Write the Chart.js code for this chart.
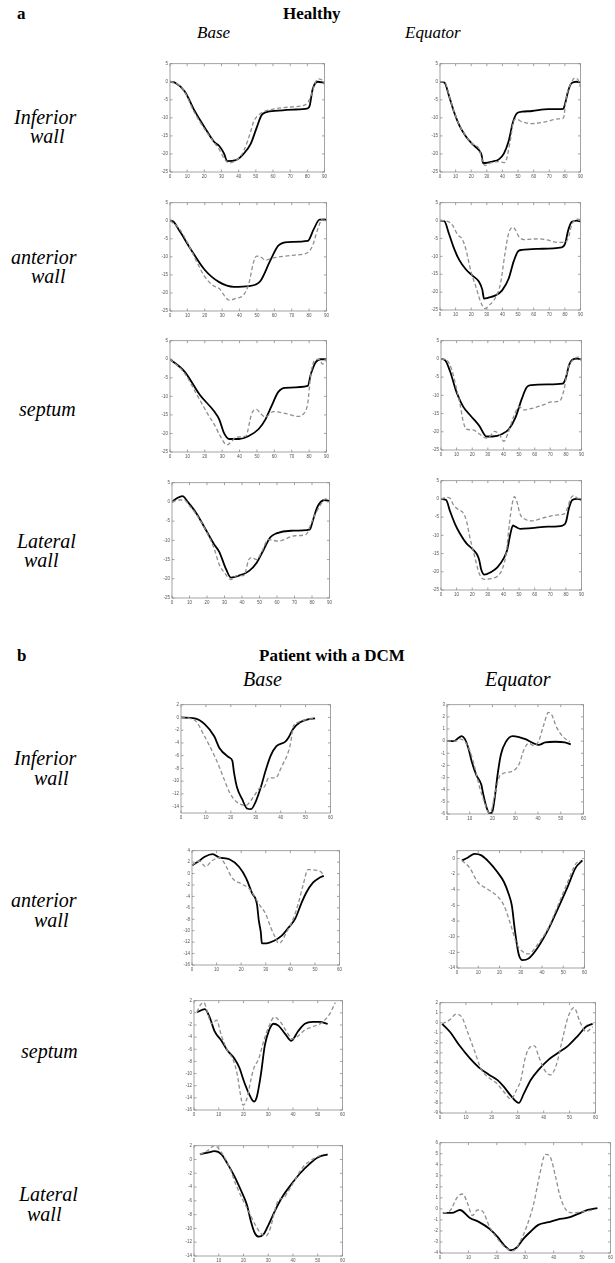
<!DOCTYPE html>
<html>
<head>
<meta charset="utf-8">
<script src="https://cdn.jsdelivr.net/npm/chart.js@4.4.0/dist/chart.umd.min.js"></script>
<style>
  html, body { margin: 0; padding: 0; background: #fff; }
  body { position: relative; width: 615px; height: 1263px; overflow: hidden; font-family: "Liberation Serif", "DejaVu Serif", serif; }
  .t { position: absolute; white-space: nowrap; color: #000; line-height: 1; }
  .bold { font-weight: bold; font-size: 17px; }
  .it { font-style: italic; font-size: 17px; }
  .it2 { font-style: italic; font-size: 20px; }
  .row { font-style: italic; font-size: 20px; }
  canvas { position: absolute; }
</style>
</head>
<body>
<div class="t bold" style="left:17px;top:5px">a</div>
<div class="t bold" style="left:283px;top:5px">Healthy</div>
<div class="t it" style="left:197px;top:24px">Base</div>
<div class="t it" style="left:405px;top:24px">Equator</div>

<div class="t row" style="left:14px;top:107px">Inferior</div>
<div class="t row" style="left:30px;top:126px">wall</div>
<div class="t row" style="left:11px;top:247px">anterior</div>
<div class="t row" style="left:31px;top:266px">wall</div>
<div class="t row" style="left:19px;top:399px">septum</div>
<div class="t row" style="left:17px;top:531px">Lateral</div>
<div class="t row" style="left:24px;top:550px">wall</div>

<div class="t bold" style="left:17px;top:647px">b</div>
<div class="t bold" style="left:259px;top:647px">Patient with a DCM</div>
<div class="t it2" style="left:243px;top:669px">Base</div>
<div class="t it2" style="left:485px;top:669px">Equator</div>

<div class="t row" style="left:14px;top:748px">Inferior</div>
<div class="t row" style="left:34px;top:768px">wall</div>
<div class="t row" style="left:11px;top:890px">anterior</div>
<div class="t row" style="left:34px;top:910px">wall</div>
<div class="t row" style="left:21px;top:1041px">septum</div>
<div class="t row" style="left:19px;top:1184px">Lateral</div>
<div class="t row" style="left:27px;top:1204px">wall</div>

<script>
// tick labels
const healthyXTicks = [0, 10, 20, 30, 40, 50, 60, 70, 80, 90];
const healthyYTicks = [5, 0, -5, -10, -15, -20, -25];
const dcmXTicks = [0, 10, 20, 30, 40, 50, 60];
const dcmInfBaseYTicks = [2, 0, -2, -4, -6, -8, -10, -12, -14];
const dcmInfEqYTicks = [3, 2, 1, 0, -1, -2, -3, -4, -5, -6];
const dcmAntBaseYTicks = [4, 2, 0, -2, -4, -6, -8, -10, -12, -14, -16];
const dcmAntEqYTicks = [0, -2, -4, -6, -8, -10, -12, -14];
const dcmSepBaseYTicks = [2, 0, -2, -4, -6, -8, -10, -12, -14, -16];
const dcmSepEqYTicks = [2, 1, 0, -1, -2, -3, -4, -5, -6, -7, -8, -9];
const dcmLatBaseYTicks = [2, 0, -2, -4, -6, -8, -10, -12, -14];
const dcmLatEqYTicks = [6, 5, 4, 3, 2, 1, 0, -1, -2, -3, -4];

// a: healthy, [time, strain] pairs — solid = model, dashed = measured
const hInfBaseSolid = [[0,0],[3,-0.3],[8.6,-2.7],[14.3,-8],[20,-12.5],[25.8,-16.7],[28.7,-17.8],[31.5,-19.9],[33.3,-22],[38.4,-21.7],[43,-19.9],[47,-17.2],[50.5,-12.7],[53.3,-9.3],[55.6,-8.5],[63,-8],[72,-7.7],[80.3,-7.4],[81.4,-6.6],[83.1,-2.1],[86,0],[90,-0.3]];
const hInfBaseDash = [[0,0],[3,-0.3],[8,-2.4],[14,-8.3],[20,-13],[26,-17],[29,-19],[31.5,-21.2],[34.4,-22.5],[40,-21.2],[43,-19.1],[47,-13.8],[48.7,-11.1],[52.8,-8.8],[59,-7.7],[70,-7],[78.6,-6.4],[81.4,-4.8],[84.3,-0.8],[86,0.8],[89,0.3],[90,-0.8]];
const hInfEqSolid = [[0,0],[2.8,-0.2],[5.9,-4.1],[9.1,-8.5],[12.3,-12],[16.5,-15.1],[20.8,-17.3],[25,-19],[26.7,-20.4],[27.5,-22.5],[29.2,-22.5],[33.5,-22.1],[37.7,-21.5],[40.9,-19.9],[44,-16.4],[46.8,-11.1],[49.4,-8.7],[52.5,-8.3],[58.9,-8.1],[69.5,-7.6],[79,-7.5],[80,-6.3],[82.2,-2.4],[84.3,-0.4],[87.5,0],[90,-0.2]];
const hInfEqDash = [[0,0],[2.8,0],[5.9,-3.9],[9.1,-8.4],[12.3,-11.9],[16.5,-15],[20.8,-17.2],[25,-18.6],[27,-21.7],[28.8,-23.2],[32.4,-22.5],[37.7,-22.1],[41.5,-22.4],[45,-16.4],[47,-11.1],[48.7,-10.3],[52.5,-11.1],[58.9,-11.6],[67.4,-11.1],[75.8,-10.3],[79,-10.1],[81,-4.1],[83.3,-1],[86.4,1],[88.6,0.4],[90,-1.5]];

const hAntBaseSolid = [[0,0],[1,0],[5.7,-3],[11.3,-7.4],[19.8,-13.5],[28.3,-17],[36.8,-18.3],[45.3,-18.1],[52,-16.7],[57.7,-11],[62.3,-6.9],[68,-5.9],[79.2,-5.6],[82.6,-2.4],[86,0.3],[90,0.3]];
const hAntBaseDash = [[0,0],[5,-2],[10,-6],[15,-11],[20,-15.5],[25,-18],[28.3,-18.8],[34,-22],[37.9,-21.5],[41.3,-21],[43.6,-19.6],[45.3,-17.5],[48.1,-11.4],[49.8,-9.8],[52,-10],[54.9,-10.9],[59.4,-10.3],[71.9,-9.5],[79.2,-8.8],[82,-6.9],[84.9,-2.4],[87.7,0.5],[90,0.5]];
const hAntEqSolid = [[0,0],[2.8,-0.2],[5.9,-3.9],[9.1,-7.9],[12.3,-11],[16.5,-13.6],[20.8,-15.4],[25,-17.1],[27.1,-19.3],[28.2,-21.8],[31.4,-21.5],[35.6,-20.9],[39.8,-19.5],[44,-16.2],[47.2,-11.4],[50,-8.6],[52.5,-8.2],[63.1,-7.9],[78,-7.5],[80,-6.6],[82.2,-2.6],[84.3,-0.4],[87.5,0],[90,-0.2]];
const hAntEqDash = [[0,0],[4.9,-0.2],[8,-1.3],[11.2,-3.9],[14.4,-5.3],[16.5,-7.9],[19.7,-14],[22.9,-18.4],[26.1,-22.8],[28.8,-24.6],[31.4,-23.7],[35.6,-21.5],[38.8,-17.5],[41.5,-9.6],[44,-3.5],[46.8,-1.9],[48.3,-2.6],[50.4,-4.4],[53.6,-5.3],[63.1,-5.1],[68.4,-5.4],[75.8,-6.1],[80,-6.1],[82.2,-4.8],[84.3,-1.3],[86.4,0.2],[88.6,0.4],[90,0.2]];

const hSepBaseSolid = [[0,0],[8.5,-3.4],[17,-9.5],[25.5,-14.1],[28.3,-16.2],[31.1,-19.9],[34,-21.5],[39.6,-21.5],[45.3,-20.7],[51,-18.8],[54.9,-16.2],[58.3,-12.7],[62.3,-8.8],[66.2,-7.7],[79.2,-7.2],[81,-4],[83.8,-0.8],[86.6,0],[90,0]];
const hSepBaseDash = [[0,0],[8,-3.5],[16,-10],[22,-15],[26,-18],[28.3,-20.2],[32.8,-23.1],[35.7,-22],[37.9,-21],[43.6,-20.7],[47,-14.6],[49.8,-13.5],[52,-14.6],[54.9,-15.6],[59.4,-14.1],[66.2,-14.6],[73.6,-15.4],[76.4,-14.9],[79.2,-11.9],[81,-4],[83.2,-0.3],[86,0],[87.7,-1.3],[90,0]];
const hSepEqSolid = [[0,0],[2.7,-0.4],[5.8,-3.4],[10,-9.2],[14.2,-13.1],[19.4,-15.8],[24.6,-18.4],[29.2,-21.3],[33,-21.3],[39.2,-20.6],[43.4,-19.3],[47.6,-16.2],[51.8,-10.9],[54.9,-7.8],[58,-7.2],[68.5,-7],[77.9,-6.8],[80,-5.2],[82,-1.7],[84.1,-0.2],[87.3,0.1],[90,-0.2]];
const hSepEqDash = [[0,0],[3.8,-0.4],[6.9,-3],[10,-8.3],[12.1,-12.2],[14.2,-17.1],[16.3,-19.3],[20.5,-19.5],[24.6,-20.6],[28.8,-21.7],[31.9,-21],[34,-19.9],[37.2,-20.6],[40.3,-22.6],[43,-20.2],[46.6,-15.8],[50.1,-13.1],[52.8,-14],[58,-13.6],[66.4,-12.5],[70.6,-11.8],[75.8,-11.6],[78.9,-8.3],[81,-3],[84.1,-0.5],[88.3,0.5],[90,-0.4]];

const hLatBaseSolid = [[0,0],[3,1],[6,1.5],[9,0],[14,-3],[19,-7],[24,-11],[27,-13],[30.9,-17.5],[33.7,-19.7],[38.2,-19.2],[43.9,-18],[48.4,-15.8],[52.3,-12.5],[56.2,-9.2],[59.6,-8.2],[68,-7.5],[78.7,-7.2],[80.4,-5],[83.2,-1.2],[87.2,0.5],[90,0.2]];
const hLatBaseDash = [[0,0],[4,0.5],[7,0.5],[10,-1],[15,-4],[20,-8],[24,-12],[27,-16.3],[29.8,-18.3],[33.7,-20.2],[37.1,-19.2],[41,-19.2],[43.9,-15],[45.6,-14.5],[48.4,-15],[51.2,-13],[55.1,-9.8],[60.7,-10.2],[70.3,-8.8],[76.5,-8.5],[79.3,-5.8],[82.1,-3],[86,0],[87.7,0.8],[90,0]];
const hLatEqSolid = [[0,0],[3.3,-0.3],[5.8,-3.4],[9,-6.9],[12.1,-9.5],[16.3,-12.2],[20.5,-13.9],[23.6,-15.7],[24.6,-17],[25.7,-19.3],[27.8,-20.8],[31.9,-20.1],[36.1,-18.8],[40.3,-16.2],[42.4,-14],[44.5,-9.5],[46.1,-7.3],[47.6,-7.6],[50.7,-8.2],[58,-8],[68.5,-7.6],[77.9,-7.3],[80,-6.4],[82,-2.5],[84.1,-0.3],[87.3,0],[90,-0.2]];
const hLatEqDash = [[0,0],[3.8,0.4],[5.8,0.2],[7.9,-1.6],[11.1,-2.9],[14.2,-3.8],[16.3,-6],[18.4,-10.4],[21.5,-15.7],[24.6,-20.6],[27.8,-22.1],[31.9,-21.9],[36.1,-21.2],[39.2,-19.3],[41.8,-14.8],[43.8,-6.9],[45.5,-1.6],[47,0.6],[48.6,-0.7],[50.7,-4.2],[53.9,-5.6],[58,-6],[66.4,-5.1],[74.7,-4.4],[78.9,-4.1],[81,-2.5],[83.1,0.2],[85.2,0.9],[87.3,0.2],[90,0]];

// b: patient with a DCM
const dInfBaseSolid = [[0,0],[5.5,-0.15],[9.5,-1.05],[13.4,-3],[15.4,-4.8],[19.4,-6.3],[20.6,-6.8],[21.3,-8.7],[22.5,-11],[24.5,-12.8],[26.5,-14.3],[28.1,-14.4],[30,-13.2],[32,-11],[34,-8.3],[36,-6],[38.3,-4.5],[41.9,-3.8],[43.1,-3.2],[45,-1.8],[47.8,-0.75],[51,-0.3],[53.8,-0.15]];
const dInfBaseDash = [[0,0],[5.5,-0.45],[9.5,-3],[13.4,-6],[15.4,-7.8],[17.4,-9.8],[19.4,-11.7],[22.1,-13.2],[26.1,-13.8],[28.5,-12.8],[30.4,-11.7],[32,-11],[33.2,-11],[35.2,-9.5],[37.9,-9.5],[40.3,-7.8],[43.9,-4.2],[45,-1.5],[47,-0.75],[51,-0.3],[53.8,-0.15]];
const dInfEqSolid = [[0,0],[2.9,0],[5,0.26],[6.5,0.42],[7.9,0.16],[9.4,-0.58],[10.8,-1.63],[12.9,-2.8],[15.1,-3.6],[15.8,-4.25],[17.3,-5.4],[18.7,-5.96],[19.9,-5.83],[20.9,-4.78],[22.3,-2.68],[23.7,-1.1],[25.9,-0.05],[28.8,0.42],[31.7,0.34],[34.5,0.16],[38.1,-0.18],[40.3,-0.31],[43.2,-0.1],[47.5,-0.05],[51.8,-0.1],[54.4,-0.26]];
const dInfEqDash = [[0,0],[3.6,0],[5.8,0.16],[7.9,-0.05],[10.1,-0.84],[12.2,-2.15],[14.4,-3.86],[16.5,-5.04],[18.4,-5.88],[19.4,-5.77],[20.9,-4.5],[23,-2.94],[24.5,-2.68],[27.3,-2.55],[29.5,-2.41],[31.7,-1.89],[33.8,-0.71],[36,-0.18],[38.1,-0.37],[40.3,0],[42.4,1.26],[44.6,2.36],[46,2.18],[48.2,1.13],[51.1,0.34],[54,-0.05]];

const dAntBaseSolid = [[0,1.44],[2.4,2.05],[5.2,2.95],[8.4,3.4],[11.2,2.8],[15.2,2.5],[19.2,1.14],[22,-0.8],[24.4,-3.4],[26.4,-5.3],[27.2,-8.3],[28,-10.3],[28.4,-12.2],[30.4,-12.2],[33.2,-11.8],[36.4,-10.9],[39.2,-9.5],[42,-7.9],[44.4,-5.3],[46.4,-3.4],[49.2,-1.6],[52,-0.7],[53.6,-0.4]];
const dAntBaseDash = [[0,1.44],[3,2.2],[5.5,1.2],[8,2.2],[11.2,2.8],[13.2,1.8],[16.4,-0.8],[20,-1.8],[23.2,-2.6],[25.2,-3.8],[27.2,-5.3],[30,-7.1],[32,-9.4],[34,-11.3],[35.2,-12.2],[36.4,-11.9],[38.4,-10.3],[41.2,-7.9],[43.2,-5.3],[45.2,-2],[47.2,0.7],[50,0.6],[52.4,0.3],[53.6,-0.4]];
const dAntEqSolid = [[2.3,-0.25],[5,0.1],[8.3,0.6],[11.5,0.4],[15.2,-0.5],[18.9,-1.7],[22.1,-3],[24.4,-4.6],[25.8,-6],[27.2,-9.1],[29,-12.2],[30.9,-13],[33.6,-12.8],[38.2,-11.3],[42.9,-9.1],[47.5,-6.4],[52.1,-3.6],[55.8,-1.2],[59,-0.25]];
const dAntEqDash = [[2.3,-0.25],[6,-1.2],[9.7,-3],[14.3,-3.9],[18.9,-4.8],[22.1,-6],[25.3,-8.5],[28.1,-10.9],[30.9,-11.9],[33.6,-12.2],[38.2,-10.9],[42.9,-8.9],[47.5,-6],[52.1,-3],[55.8,-0.7],[58.1,-0.25]];

const dSepBaseSolid = [[1.2,0.1],[4.4,0.6],[6.3,-0.7],[8.3,-3],[11.1,-4.6],[13.5,-6.2],[16.3,-7.5],[18.3,-9],[20.2,-11.3],[22.2,-13.3],[24.2,-14.6],[25.4,-13.8],[27,-10.2],[28.6,-5.4],[30.2,-3],[32.1,-1.8],[34.1,-2.1],[36.9,-3.5],[39.3,-4.6],[42.1,-3],[44.8,-1.8],[48,-1.5],[50.8,-1.5],[54,-1.8]];
const dSepBaseDash = [[1.2,0.1],[2.4,1.2],[4,1.7],[5.6,-0.2],[7.1,-1.8],[9.1,-1.2],[11.1,-3.8],[13.5,-6.2],[15.9,-7.8],[17.5,-10.2],[18.7,-13.3],[19.8,-15.2],[21.4,-14.1],[23,-11],[24.2,-9.1],[26.2,-7.5],[28.2,-4.6],[30.2,-2.3],[32.5,-0.7],[34.9,-1.5],[37.3,-3],[39.7,-4.3],[42.1,-3.8],[44.8,-2.8],[48,-2.3],[52,-1.5],[54.8,-0.2],[57.1,1.7]];
const dSepEqSolid = [[0.8,-0.1],[3.8,-0.9],[7.6,-2.3],[11.4,-3.5],[15.2,-4.5],[19,-5.2],[22.1,-5.7],[24.7,-6.4],[27.4,-7.3],[30.4,-8],[32.3,-7.1],[35,-5.7],[38,-4.7],[41.8,-3.7],[45.6,-3],[49.4,-2.3],[53.2,-1.3],[56.3,-0.4],[58.9,-0.1]];
const dSepEqDash = [[0.8,-0.1],[3.8,0.3],[6.1,0.85],[8.4,0.56],[10.6,-0.9],[13.3,-2.8],[16,-4.7],[19,-5.5],[22.1,-6.1],[24.7,-6.9],[27.4,-7.6],[29.7,-6.6],[31.2,-5.7],[32.7,-3.7],[34.2,-2.6],[36.5,-2.3],[38,-3.3],[40.3,-4.7],[42.6,-5.2],[44.9,-4.2],[47.1,-1.8],[49.4,0.56],[51.7,1.5],[54,0.1],[56.3,-0.9],[58.9,-0.4]];

const dLatBaseSolid = [[2.4,0.75],[5.6,1],[8.3,1.2],[11.1,0.75],[13.5,-0.6],[16.3,-2.4],[19,-4.5],[21.4,-6.6],[23,-9],[24.6,-10.7],[26.2,-11.2],[28.2,-10.8],[30.2,-9.4],[32.9,-7.3],[36.1,-5.2],[39.3,-3.6],[42.9,-2],[46.8,-0.6],[50,0.3],[54,0.75]];
const dLatBaseDash = [[2.4,0.75],[5.6,1.3],[8.3,2],[11.1,1],[14.3,-1.1],[17.1,-3.8],[19.8,-5.9],[22.2,-7.6],[24.6,-9.4],[27,-10.7],[29,-11.1],[31,-9.8],[32.5,-7.6],[34.1,-5.9],[36.1,-5.6],[38.1,-4.6],[40.9,-2.9],[44,-1.1],[48,0.05],[52,0.75]];
const dLatEqSolid = [[1,-0.36],[4.2,-0.36],[7,-0.1],[10.4,-0.8],[13.8,-1.2],[17.4,-1.8],[20.1,-2.5],[22.6,-3.3],[25,-3.75],[27,-3.5],[29.4,-2.7],[31.9,-2.05],[34.6,-1.45],[38.2,-1.2],[41.6,-0.95],[45,-0.8],[48.6,-0.45],[52,-0.1],[55.4,0.07]];
const dLatEqDash = [[1,-0.36],[3.4,-0.2],[6.2,1.1],[8,1.35],[9.7,0.5],[11.4,-0.6],[13.2,-0.1],[14.9,-0.2],[17.4,-1.6],[20.8,-2.9],[23.6,-3.6],[25.7,-3.8],[27.8,-3.15],[30.5,-1.6],[33,0.5],[35,3],[37.1,4.95],[38.8,4.7],[40.6,3],[42.3,1.1],[44.4,-0.1],[46.8,-0.36],[50.2,-0.27],[53.8,-0.1]];

// plot boxes on the page: [left, top, right, bottom]
const panels = [
  { box: [170, 61, 327, 174], xr: [0, 90], yr: [-25, 5], xt: healthyXTicks, yt: healthyYTicks, solid: hInfBaseSolid, dash: hInfBaseDash },
  { box: [440, 61, 583, 174], xr: [0, 90], yr: [-25, 5], xt: healthyXTicks, yt: healthyYTicks, solid: hInfEqSolid, dash: hInfEqDash },
  { box: [170, 200, 329, 313], xr: [0, 90], yr: [-25, 5], xt: healthyXTicks, yt: healthyYTicks, solid: hAntBaseSolid, dash: hAntBaseDash },
  { box: [440, 200, 583, 312], xr: [0, 90], yr: [-25, 5], xt: healthyXTicks, yt: healthyYTicks, solid: hAntEqSolid, dash: hAntEqDash },
  { box: [170, 338, 329, 454], xr: [0, 90], yr: [-25, 5], xt: healthyXTicks, yt: healthyYTicks, solid: hSepBaseSolid, dash: hSepBaseDash },
  { box: [441, 338, 584, 452], xr: [0, 90], yr: [-25, 5], xt: healthyXTicks, yt: healthyYTicks, solid: hSepEqSolid, dash: hSepEqDash },
  { box: [172, 480, 332, 600], xr: [0, 90], yr: [-25, 5], xt: healthyXTicks, yt: healthyYTicks, solid: hLatBaseSolid, dash: hLatBaseDash },
  { box: [441, 478, 584, 592], xr: [0, 90], yr: [-25, 5], xt: healthyXTicks, yt: healthyYTicks, solid: hLatEqSolid, dash: hLatEqDash },

  { box: [181, 702, 333, 815], xr: [0, 60], yr: [-15, 2], xt: dcmXTicks, yt: dcmInfBaseYTicks, solid: dInfBaseSolid, dash: dInfBaseDash },
  { box: [447, 702, 586, 816], xr: [0, 60], yr: [-6, 3], xt: dcmXTicks, yt: dcmInfEqYTicks, solid: dInfEqSolid, dash: dInfEqDash },
  { box: [192, 848, 342, 967], xr: [0, 60], yr: [-16, 4], xt: dcmXTicks, yt: dcmAntBaseYTicks, solid: dAntBaseSolid, dash: dAntBaseDash },
  { box: [457, 848, 587, 970], xr: [0, 60], yr: [-14, 1], xt: dcmXTicks, yt: dcmAntEqYTicks, solid: dAntEqSolid, dash: dAntEqDash },
  { box: [194, 998, 345, 1112], xr: [0, 60], yr: [-16, 2], xt: dcmXTicks, yt: dcmSepBaseYTicks, solid: dSepBaseSolid, dash: dSepBaseDash },
  { box: [440, 1000, 598, 1115], xr: [0, 60], yr: [-9, 2], xt: dcmXTicks, yt: dcmSepEqYTicks, solid: dSepEqSolid, dash: dSepEqDash },
  { box: [194, 1143, 345, 1258], xr: [0, 60], yr: [-14, 2], xt: dcmXTicks, yt: dcmLatBaseYTicks, solid: dLatBaseSolid, dash: dLatBaseDash },
  { box: [440, 1140, 613, 1255], xr: [0, 60], yr: [-4, 6], xt: dcmXTicks, yt: dcmLatEqYTicks, solid: dLatEqSolid, dash: dLatEqDash }
];

// matlab-like frame: box + inward ticks on every side
const boxTicks = {
  id: 'boxTicks',
  afterDraw(chart) {
    const { ctx, chartArea: a, scales: { x, y } } = chart;
    ctx.save();
    ctx.strokeStyle = '#8c8c8c';
    ctx.lineWidth = 0.8;
    ctx.strokeRect(a.left, a.top, a.right - a.left, a.bottom - a.top);
    ctx.beginPath();
    x.ticks.forEach(t => {
      const px = x.getPixelForValue(t.value);
      ctx.moveTo(px, a.bottom); ctx.lineTo(px, a.bottom - 2.5);
      ctx.moveTo(px, a.top); ctx.lineTo(px, a.top + 2.5);
    });
    y.ticks.forEach(t => {
      const py = y.getPixelForValue(t.value);
      ctx.moveTo(a.left, py); ctx.lineTo(a.left + 2.5, py);
      ctx.moveTo(a.right, py); ctx.lineTo(a.right - 2.5, py);
    });
    ctx.stroke();
    ctx.restore();
  }
};

const AXW = 11, AXH = 8;

function drawPanel(p) {
  const [L, T, R, B] = p.box;
  const canvas = document.createElement('canvas');
  const w = R - L + AXW + 3, h = B - T + AXH + 3;
  canvas.width = w; canvas.height = h;
  canvas.style.left = (L - AXW - 1) + 'px';
  canvas.style.top = (T - 2) + 'px';
  canvas.style.width = w + 'px'; canvas.style.height = h + 'px';
  document.body.appendChild(canvas);

  const tickFont = { family: 'Liberation Sans', size: 4.5 };
  new Chart(canvas, {
    type: 'line',
    data: {
      datasets: [
        { data: p.dash, borderColor: '#8f8f8f', borderWidth: 1.3, borderDash: [4, 2.5], pointRadius: 0, cubicInterpolationMode: 'monotone' },
        { data: p.solid, borderColor: '#000', borderWidth: 1.8, pointRadius: 0, cubicInterpolationMode: 'monotone' }
      ]
    },
    options: {
      responsive: false,
      animation: false,
      devicePixelRatio: 1,
      layout: { padding: { left: 1, top: 2, right: 2, bottom: 3 } },
      plugins: { legend: { display: false }, tooltip: { enabled: false } },
      scales: {
        x: {
          type: 'linear', min: p.xr[0], max: p.xr[1],
          grid: { display: false, drawTicks: false }, border: { display: false },
          afterBuildTicks: s => { s.ticks = p.xt.map(v => ({ value: v })); },
          afterFit: s => { s.height = AXH; },
          ticks: { font: tickFont, color: '#555', padding: 2, autoSkip: false, maxRotation: 0 }
        },
        y: {
          type: 'linear', min: p.yr[0], max: p.yr[1],
          grid: { display: false, drawTicks: false }, border: { display: false },
          afterBuildTicks: s => { s.ticks = p.yt.map(v => ({ value: v })); },
          afterFit: s => { s.width = AXW; },
          ticks: { font: tickFont, color: '#555', padding: 2, autoSkip: false }
        }
      }
    },
    plugins: [boxTicks]
  });
}

panels.forEach(drawPanel);
</script>
</body>
</html>
